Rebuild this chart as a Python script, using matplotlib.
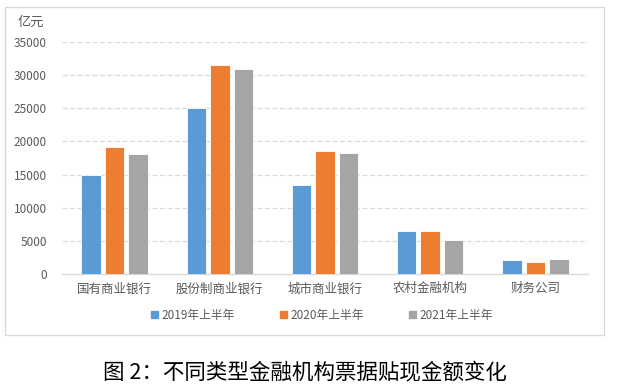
import matplotlib
matplotlib.use("Agg")
import matplotlib.pyplot as plt
import matplotlib.patches as mpatches
import numpy as np

plt.rcParams['font.family'] = ['Noto Sans CJK SC', 'DejaVu Sans']

categories = ["国有商业银行", "股份制商业银行", "城市商业银行", "农村金融机构", "财务公司"]
series_names = ["2019年上半年", "2020年上半年", "2021年上半年"]
v2019 = [15000, 25100, 13500, 6500, 2150]
v2020 = [19100, 31500, 18550, 6500, 1850]
v2021 = [18150, 30900, 18250, 5200, 2250]
yticks = [0, 5000, 10000, 15000, 20000, 25000, 30000, 35000]
colors = ["#5B9BD5", "#ED7D31", "#A5A5A5"]

W, H = 617, 392
fig = plt.figure(figsize=(W/100, H/100), dpi=100)
ax = fig.add_axes([62/W, 1-274/H, (588-62)/W, (274-42)/H])

x = np.arange(len(categories))
step = 0.223
bw = 0.185
for i, (vals, c, name) in enumerate(zip([v2019, v2020, v2021], colors, series_names)):
    ax.bar(x + (i-1)*step, vals, width=bw, color=c, edgecolor='white', linewidth=0.6, label=name, zorder=3)

ax.set_xlim(-0.5, len(categories)-0.5)
ax.set_ylim(0, 35000)
ax.set_yticks(yticks)
ax.set_yticklabels([str(t) for t in yticks], fontsize=8.5, color='#595959')
ax.set_xticks(x)
ax.set_xticklabels(categories, fontsize=9, color='#595959')
ax.tick_params(axis='both', length=0, pad=6)
ax.tick_params(axis='y', pad=11)
for yt in yticks[1:]:
    ax.axhline(yt, color='#D9D9D9', linewidth=0.9, linestyle=(0, (4, 2)), zorder=1)
for s in ['top', 'right', 'left']:
    ax.spines[s].set_visible(False)
ax.spines['bottom'].set_color('#D9D9D9')
ax.spines['bottom'].set_linewidth(1.0)

fig.text(18/W, 1-22/H, "亿元", fontsize=9.5, color='#595959', va='center', ha='left')

handles = [mpatches.Patch(color=c) for c in colors]
fig.legend(handles, series_names, loc='center', bbox_to_anchor=(322/W, 1-315/H), ncol=3,
           frameon=False, fontsize=8.5, handlelength=0.6, handleheight=0.6,
           handletextpad=0.3, columnspacing=3.8, labelcolor='#595959')

fig.patches.append(mpatches.Rectangle((5/W, 1-335/H), (604-5)/W, (335-7)/H,
                                      transform=fig.transFigure, fill=False,
                                      edgecolor='#D9D9D9', linewidth=1.0))

fig.text(305/W, 1-373/H, "图 2：不同类型金融机构票据贴现金额变化", fontsize=15.5,
         color='black', ha='center', va='center', fontweight='light')

fig.savefig("out.png", dpi=100)
